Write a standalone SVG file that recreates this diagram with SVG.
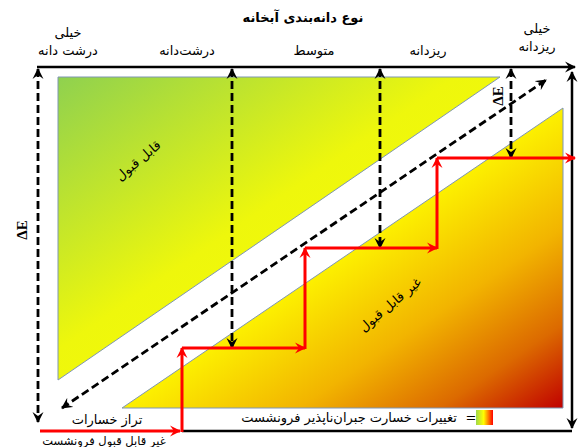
<svg xmlns="http://www.w3.org/2000/svg" width="581" height="447" viewBox="0 0 581 447">
<defs>
<linearGradient id="gUp" x1="0" y1="0" x2="1" y2="1">
<stop offset="0" stop-color="#8fd14f"/>
<stop offset="0.45" stop-color="#eef70c"/>
<stop offset="1" stop-color="#ffff00"/>
</linearGradient>
<linearGradient id="gLow" x1="0" y1="0" x2="1" y2="1">
<stop offset="0.45" stop-color="#ffff00"/>
<stop offset="0.7" stop-color="#f2b400"/>
<stop offset="0.86" stop-color="#dc6a00"/>
<stop offset="1" stop-color="#c00000"/>
</linearGradient>
<linearGradient id="gLeg" x1="0" y1="0" x2="1" y2="0">
<stop offset="0" stop-color="#9fd84a"/>
<stop offset="0.45" stop-color="#ffff00"/>
<stop offset="1" stop-color="#ff0000"/>
</linearGradient>
<marker id="ak" markerUnits="userSpaceOnUse" markerWidth="12" markerHeight="12" refX="10" refY="6" orient="auto-start-reverse">
<path d="M0,0.5 L11,6 L0,11.5 L4,6 Z" fill="#000"/>
</marker>
<marker id="ar" markerUnits="userSpaceOnUse" markerWidth="12" markerHeight="12" refX="10" refY="6" orient="auto-start-reverse">
<path d="M0,0.5 L11,6 L0,11.5 L4,6 Z" fill="#ff0000"/>
</marker>
</defs>
<style>
.t{font-family:"DejaVu Sans",sans-serif;font-size:13px;fill:#000;text-anchor:middle}
.ts{font-size:11.5px}
.tb{font-family:"DejaVu Sans",sans-serif;font-size:13px;font-weight:bold;fill:#000;text-anchor:middle}
.de{font-family:"Liberation Serif",serif;font-size:15px;font-weight:bold;fill:#000;text-anchor:middle}
.ln{stroke:#000;stroke-width:2.5;fill:none}
.ds{stroke:#000;stroke-width:2.8;fill:none;stroke-dasharray:8 4}
.rd{stroke:#ff0000;stroke-width:3;fill:none}
.tri{stroke:#7f96b2;stroke-width:1}
</style>
<rect width="581" height="447" fill="#fff"/>
<g id="zones">
<polygon id="acceptable" class="tri" points="58,77 500,77 58,380" fill="url(#gUp)"/>
<polygon id="unacceptable" class="tri" points="122,408 563,108 563,408" fill="url(#gLow)"/>
</g>
<g id="connectors">
<line class="ln" x1="37" y1="67" x2="575" y2="67" marker-end="url(#ak)"/>
<line class="ln" x1="572" y1="72" x2="572" y2="428" marker-start="url(#ak)" marker-end="url(#ak)"/>
<line class="ln" x1="182" y1="431" x2="572" y2="431"/>
<line class="ds" x1="38" y1="69" x2="38" y2="422" marker-start="url(#ak)" marker-end="url(#ak)"/>
<line class="ds" x1="232" y1="69" x2="232" y2="348" marker-start="url(#ak)" marker-end="url(#ak)"/>
<line class="ds" x1="380" y1="69" x2="380" y2="248" marker-start="url(#ak)" marker-end="url(#ak)"/>
<line class="ds" x1="511" y1="69" x2="511" y2="158" marker-start="url(#ak)" marker-end="url(#ak)"/>
<line class="ds" x1="62" y1="408" x2="546" y2="80" marker-start="url(#ak)" marker-end="url(#ak)"/>
<line class="rd" x1="40" y1="431" x2="180" y2="431" marker-end="url(#ar)"/>
<line class="rd" x1="182" y1="432" x2="182" y2="348" marker-end="url(#ar)"/>
<line class="rd" x1="182" y1="348" x2="305" y2="348" marker-end="url(#ar)"/>
<line class="rd" x1="305" y1="349" x2="305" y2="248" marker-end="url(#ar)"/>
<line class="rd" x1="305" y1="248" x2="437" y2="248" marker-end="url(#ar)"/>
<line class="rd" x1="437" y1="249" x2="437" y2="158" marker-end="url(#ar)"/>
<line class="rd" x1="437" y1="158" x2="575" y2="158" marker-end="url(#ar)"/>
</g>
<g id="labels">
<text class="tb" x="303" y="22">نوع دانه‌بندی آبخانه</text>
<text class="t" x="68" y="37">خیلی</text>
<text class="t" x="68" y="55">درشت دانه</text>
<text class="t" x="187" y="55">درشت‌دانه</text>
<text class="t" x="314" y="55">متوسط</text>
<text class="t" x="428" y="55">ریزدانه</text>
<text class="t" x="537" y="33">خیلی</text>
<text class="t" x="537" y="51">ریزدانه</text>
<text class="de" transform="translate(27,230) rotate(-90)">ΔE</text>
<text class="de" transform="translate(503,96) rotate(-90)">ΔE</text>
<text class="t" transform="translate(141,164) rotate(-40)">قابل قبول</text>
<text class="t" transform="translate(393,308) rotate(-40)">غیر قابل قبول</text>
<text class="t" x="107" y="424">تراز خسارات</text>
<text class="t ts" x="104" y="445">غیر قابل قبول فرونشست</text>
<text class="t" x="349" y="422">تغییرات خسارت جبران‌ناپذیر فرونشست</text>
<text class="t" x="471" y="422">=</text>
<rect x="476" y="410" width="17" height="15" fill="url(#gLeg)"/>
</g>
</svg>
